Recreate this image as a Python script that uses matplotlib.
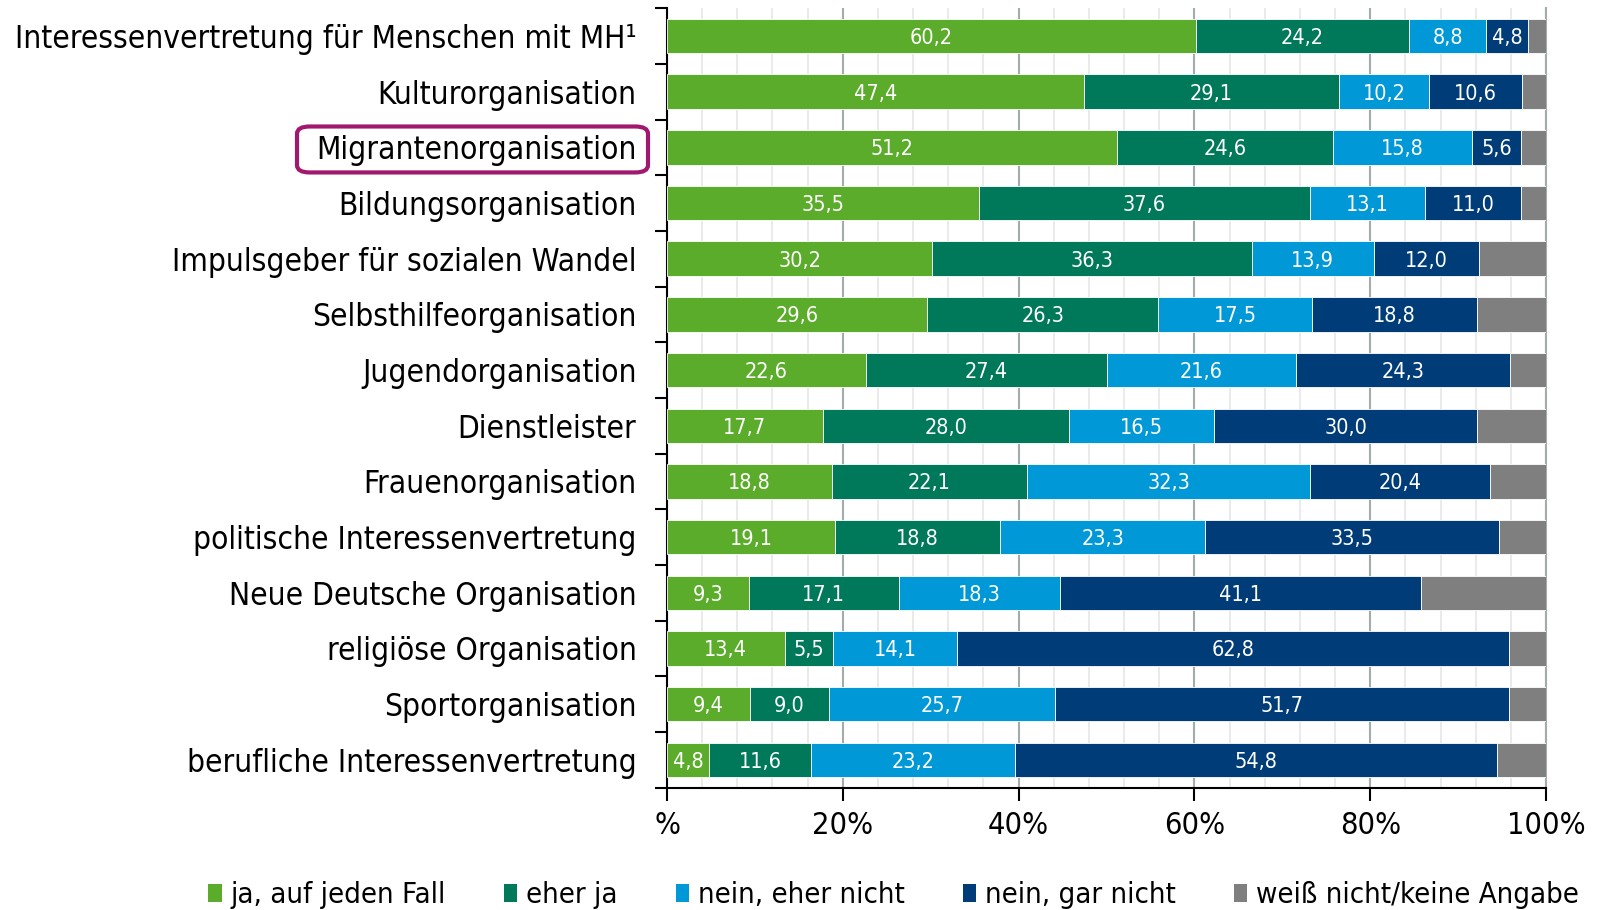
'''
stacked bar chart: Einschätzung von Organisationstypen
'''
# import libraries ----------------------------------------
import matplotlib
matplotlib.use('Agg')
import matplotlib.pyplot as plt
from matplotlib.patches import Patch, FancyBboxPatch
from matplotlib.ticker import MultipleLocator, FixedLocator

# data ----------------------------------------------------
categories = [
    'Interessenvertretung für Menschen mit MH¹',
    'Kulturorganisation',
    'Migrantenorganisation',
    'Bildungsorganisation',
    'Impulsgeber für sozialen Wandel',
    'Selbsthilfeorganisation',
    'Jugendorganisation',
    'Dienstleister',
    'Frauenorganisation',
    'politische Interessenvertretung',
    'Neue Deutsche Organisation',
    'religiöse Organisation',
    'Sportorganisation',
    'berufliche Interessenvertretung',
]
ja_auf_jeden_fall = [60.2, 47.4, 51.2, 35.5, 30.2, 29.6, 22.6, 17.7, 18.8, 19.1, 9.3, 13.4, 9.4, 4.8]
eher_ja = [24.2, 29.1, 24.6, 37.6, 36.3, 26.3, 27.4, 28.0, 22.1, 18.8, 17.1, 5.5, 9.0, 11.6]
eher_nicht = [8.8, 10.2, 15.8, 13.1, 13.9, 17.5, 21.6, 16.5, 32.3, 23.3, 18.3, 14.1, 25.7, 23.2]
gar_nicht = [4.8, 10.6, 5.6, 11.0, 12.0, 18.8, 24.3, 30.0, 20.4, 33.5, 41.1, 62.8, 51.7, 54.8]
keine_angabe = [2.0, 2.7, 2.8, 2.8, 7.6, 7.8, 4.1, 7.8, 6.4, 5.3, 14.2, 4.2, 4.2, 5.6]

series = [ja_auf_jeden_fall, eher_ja, eher_nicht, gar_nicht, keine_angabe]
series_names = ['ja, auf jeden Fall', 'eher ja', 'nein, eher nicht',
                'nein, gar nicht', 'weiß nicht/keine Angabe']
colors = ['#5aac2a', '#00785a', '#0098d6', '#003c78', '#7f7f7f']
show_labels = [True, True, True, True, False]

x_ticks = [0, 20, 40, 60, 80, 100]
x_ticklabels = ['%', '20%', '40%', '60%', '80%', '100%']

# style ---------------------------------------------------
plt.rcParams['font.family'] = ['DejaVu Sans']
plt.rcParams['font.stretch'] = 'condensed'
cat_size = 22.7
tick_size = 22
legend_size = 21

# plot ----------------------------------------------------
fig = plt.figure(figsize=(15.98, 9.10), dpi=100)
ax = fig.add_axes([0.4174, 0.1344, 0.5501, 0.8566])

ypos = list(range(len(categories)))
left = [0.0] * len(categories)
for vals, name, col, lab in zip(series, series_names, colors, show_labels):
    ax.barh(ypos, vals, left=left, height=0.62, color=col,
            edgecolor='white', linewidth=0.6, label=name, zorder=3)
    if lab:
        for y, v, l in zip(ypos, vals, left):
            ax.text(l + v / 2, y, '{:.1f}'.format(v).replace('.', ','),
                    ha='center', va='center_baseline', color='white',
                    fontsize=15.5, zorder=4)
    left = [a + b for a, b in zip(left, vals)]

# axes ----------------------------------------------------
ax.set_xlim(0, 100)
ax.set_ylim(len(categories) - 0.5, -0.5)

ax.xaxis.set_major_locator(FixedLocator(x_ticks))
ax.xaxis.set_minor_locator(MultipleLocator(4))
ax.set_xticklabels(x_ticklabels, fontsize=tick_size)
ax.grid(axis='x', which='major', color='#a3acac', linewidth=1.5, zorder=0)
ax.grid(axis='x', which='minor', color='#e6e6e6', linewidth=1.2, zorder=0)
ax.tick_params(axis='x', which='major', length=9, width=1.5, direction='out',
               pad=8, labelsize=tick_size)
ax.tick_params(axis='x', which='minor', length=0)

ax.yaxis.set_major_locator(FixedLocator(ypos))
ax.set_yticklabels(categories, fontsize=cat_size)
ax.yaxis.set_minor_locator(FixedLocator([y - 0.5 for y in ypos] + [len(ypos) - 0.5]))
ax.tick_params(axis='y', which='major', length=0, pad=22)
ax.tick_params(axis='y', which='minor', length=9, width=1.5, direction='out')

ax.spines['top'].set_visible(False)
ax.spines['right'].set_color('#a3acac')
ax.spines['right'].set_linewidth(1.5)
ax.spines['left'].set_linewidth(1.5)
ax.spines['bottom'].set_linewidth(1.5)

# highlight box around Migrantenorganisation:
box = FancyBboxPatch((297 / 1598, 0.8105), 351 / 1598, 0.0505,
                     boxstyle='round,pad=0,rounding_size=0.008',
                     transform=fig.transFigure, fill=False,
                     edgecolor='#a0196e', linewidth=3)
fig.add_artist(box)

# legend --------------------------------------------------
handles = [Patch(facecolor=c, edgecolor='none') for c in colors]
fig.legend(handles, series_names, loc='lower left', ncol=5,
           bbox_to_anchor=(0.114, -0.028), frameon=False, fontsize=legend_size,
           handlelength=0.45, handleheight=0.6, handletextpad=0.3,
           columnspacing=2.0)

# save:
plt.savefig('out.png', dpi=100)
